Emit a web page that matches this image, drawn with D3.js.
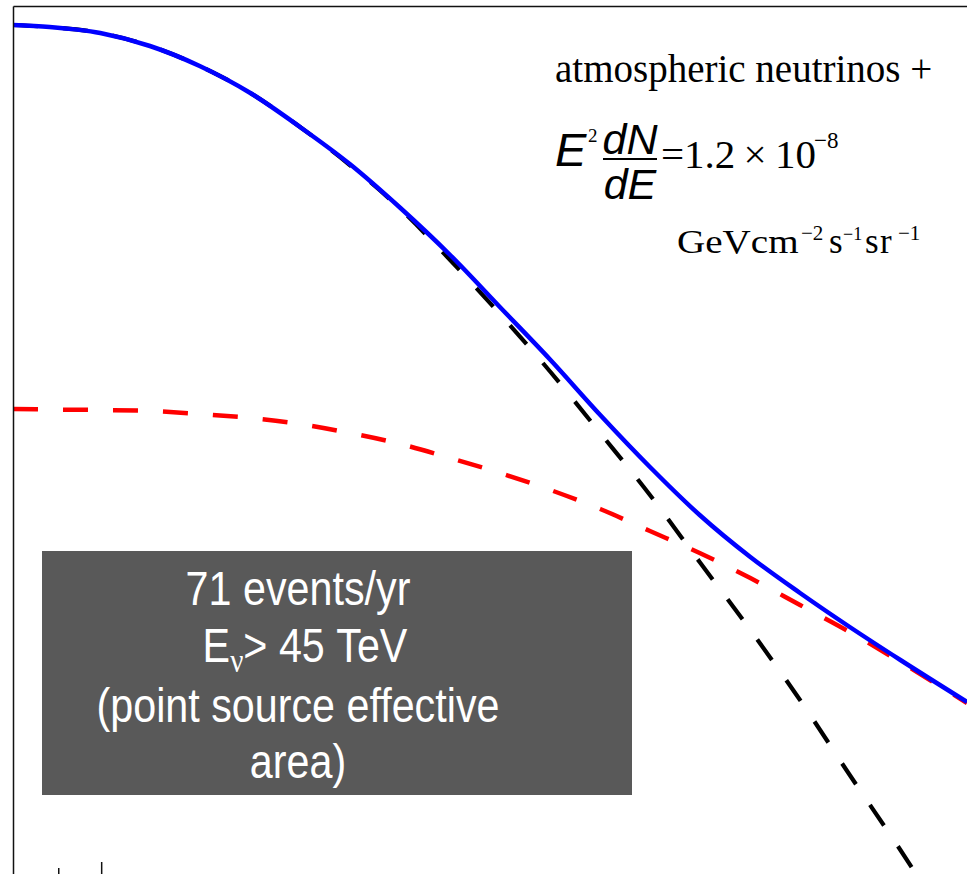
<!DOCTYPE html>
<html>
<head>
<meta charset="utf-8">
<script src="https://cdn.jsdelivr.net/npm/d3@7/dist/d3.min.js"></script>
<style>
  html, body { margin: 0; padding: 0; background: #ffffff; }
  svg { display: block; }
</style>
</head>
<body>
<div id="chart"></div>
<script>
// ---- data (log10 energy grid and log10 event rates, arbitrary units) ----
const logE = [4.906, 4.945, 4.999, 5.052, 5.105, 5.159, 5.212, 5.265, 5.319, 5.372,
              5.425, 5.479, 5.532, 5.585, 5.638, 5.692, 5.745, 5.798, 5.852, 5.923];
const totalRate = [8.49, 8.47, 8.41, 8.28, 8.08, 7.81, 7.47, 7.10, 6.66, 6.19,
                   5.67, 5.14, 4.59, 4.07, 3.59, 3.17, 2.81, 2.47, 2.14, 1.72];
const atmoRate  = [8.49, 8.47, 8.41, 8.28, 8.08, 7.81, 7.47, 7.09, 6.65, 6.14,
                   5.60, 5.02, 4.41, 3.79, 3.12, 2.44, 1.74, 0.99, 0.24, -0.80];
const astroRate = [4.65, 4.645, 4.64, 4.63, 4.60, 4.56, 4.50, 4.41, 4.30, 4.16,
                   4.01, 3.84, 3.65, 3.43, 3.21, 2.96, 2.69, 2.42, 2.12, 1.71];
const majorTicks = [5];
const minorTicks = [Math.log10(9e4)];
const xDomain = [4.906, 5.923];
const yDomain = [0, 8.68];

(function () {
const W = 967, H = 874;
const pLeft = 13, pRight = 967, pTop = 6, pBottom = 874;

const svg = d3.select("#chart").append("svg")
  .attr("width", W).attr("height", H);

const x = d3.scaleLinear().domain(xDomain).range([pLeft, pRight]);
const y = d3.scaleLinear().domain(yDomain).range([pBottom, pTop]);

svg.append("defs").append("clipPath").attr("id", "plotclip")
  .append("rect").attr("x", pLeft).attr("y", pTop)
  .attr("width", pRight - pLeft).attr("height", pBottom - pTop);

const plot = svg.append("g").attr("clip-path", "url(#plotclip)");

function series(vals) { return logE.map((e, i) => ({ e: e, v: vals[i] })); }
const line = d3.line().x(d => x(d.e)).y(d => y(d.v)).curve(d3.curveMonotoneX);

plot.append("path").datum(series(astroRate))
  .attr("d", line).attr("fill", "none")
  .attr("stroke", "#ff0000").attr("stroke-width", 4.5)
  .attr("stroke-dasharray", "25,25");

plot.append("path").datum(series(atmoRate))
  .attr("d", line).attr("fill", "none")
  .attr("stroke", "#000000").attr("stroke-width", 4.2)
  .attr("stroke-dasharray", "25,25");

plot.append("path").datum(series(totalRate))
  .attr("d", line).attr("fill", "none")
  .attr("stroke", "#0000ff").attr("stroke-width", 4.5);

// ---- axes ----
const yAxis = svg.append("g").attr("transform", `translate(${pLeft},0)`)
  .call(d3.axisLeft(y).ticks(0).tickSizeOuter(0));
yAxis.select(".domain").attr("stroke", "#111").attr("stroke-width", 1.5);

const topAxis = svg.append("g").attr("transform", `translate(0,${pTop})`)
  .call(d3.axisTop(x).ticks(0).tickSizeOuter(0));
topAxis.select(".domain").attr("stroke", "#111").attr("stroke-width", 1.5);

const majAxis = svg.append("g").attr("transform", `translate(0,${pBottom})`)
  .call(d3.axisTop(x).tickValues(majorTicks).tickSize(12).tickFormat(""));
majAxis.select(".domain").remove();
majAxis.selectAll("line").attr("stroke", "#111").attr("stroke-width", 1.5);

const minAxis = svg.append("g").attr("transform", `translate(0,${pBottom})`)
  .call(d3.axisTop(x).tickValues(minorTicks).tickSize(6).tickFormat(""));
minAxis.select(".domain").remove();
minAxis.selectAll("line").attr("stroke", "#111").attr("stroke-width", 1.5);

// ---- annotation: top-right formula ----
const serif = "'Liberation Serif', 'Times New Roman', serif";
const sans = "'Liberation Sans', Arial, sans-serif";
const ann = svg.append("g").attr("fill", "#000");

ann.append("text").attr("x", 555).attr("y", 82)
  .attr("font-family", serif).attr("font-size", 39)
  .text("atmospheric neutrinos +");

ann.append("text").attr("x", 555).attr("y", 166)
  .attr("font-family", sans).attr("font-style", "italic").attr("font-size", 47)
  .text("E");
ann.append("text").attr("x", 588).attr("y", 142)
  .attr("font-family", serif).attr("font-size", 19)
  .text("2");
ann.append("text").attr("x", 630).attr("y", 154).attr("text-anchor", "middle")
  .attr("font-family", sans).attr("font-style", "italic").attr("font-size", 43)
  .text("dN");
ann.append("line").attr("x1", 603).attr("x2", 657).attr("y1", 159).attr("y2", 159)
  .attr("stroke", "#000").attr("stroke-width", 2);
ann.append("text").attr("x", 630).attr("y", 199).attr("text-anchor", "middle")
  .attr("font-family", sans).attr("font-style", "italic").attr("font-size", 43)
  .text("dE");
ann.append("text").attr("x", 661).attr("y", 168)
  .attr("font-family", serif).attr("font-size", 41)
  .text("=1.2\u2009\u00d7\u200910");
ann.append("text").attr("x", 814).attr("y", 148)
  .attr("font-family", serif).attr("font-size", 23)
  .text("\u22128");

// units line
ann.append("g").attr("transform", "translate(677,253) scale(1.15,1)")
  .append("text").attr("font-family", serif).attr("font-size", 34).text("GeVcm");
const supers = [["\u22122", 801, 21], ["\u22121", 843, 18], ["\u22121", 898, 21]];
supers.forEach(s => ann.append("text").attr("x", s[1]).attr("y", 240)
  .attr("font-family", serif).attr("font-size", s[2]).text(s[0]));
const bases = [["s", 829], ["s", 865], ["r", 880]];
bases.forEach(s => ann.append("text").attr("x", s[1]).attr("y", 253)
  .attr("font-family", serif).attr("font-size", 35).text(s[0]));

// ---- grey info box ----
svg.append("rect").attr("x", 42).attr("y", 551).attr("width", 590).attr("height", 244)
  .attr("fill", "#595959");

const boxLines = [
  { y: 605, parts: [["71 events/yr", 0]] },
  { y: 662, parts: [["E", 0], ["\u03bd", 1], ["> 45 TeV", 2]] },
  { y: 722, parts: [["(point source effective", 0]] },
  { y: 778, parts: [["area)", 0]] }
];
boxLines.forEach((ln, i) => {
  const g = svg.append("g")
    .attr("transform", `translate(${i === 1 ? 305 : 298},${ln.y}) scale(0.86,1)`);
  const t = g.append("text").attr("text-anchor", "middle")
    .attr("font-family", sans).attr("font-size", 48).attr("fill", "#ffffff");
  ln.parts.forEach(p => {
    const ts = t.append("tspan").text(p[0]);
    if (p[1] === 1) ts.attr("font-size", 34).attr("dy", 10).attr("font-family", serif);
    if (p[1] === 2) ts.attr("dy", -10);
  });
});
})();
</script>
</body>
</html>
